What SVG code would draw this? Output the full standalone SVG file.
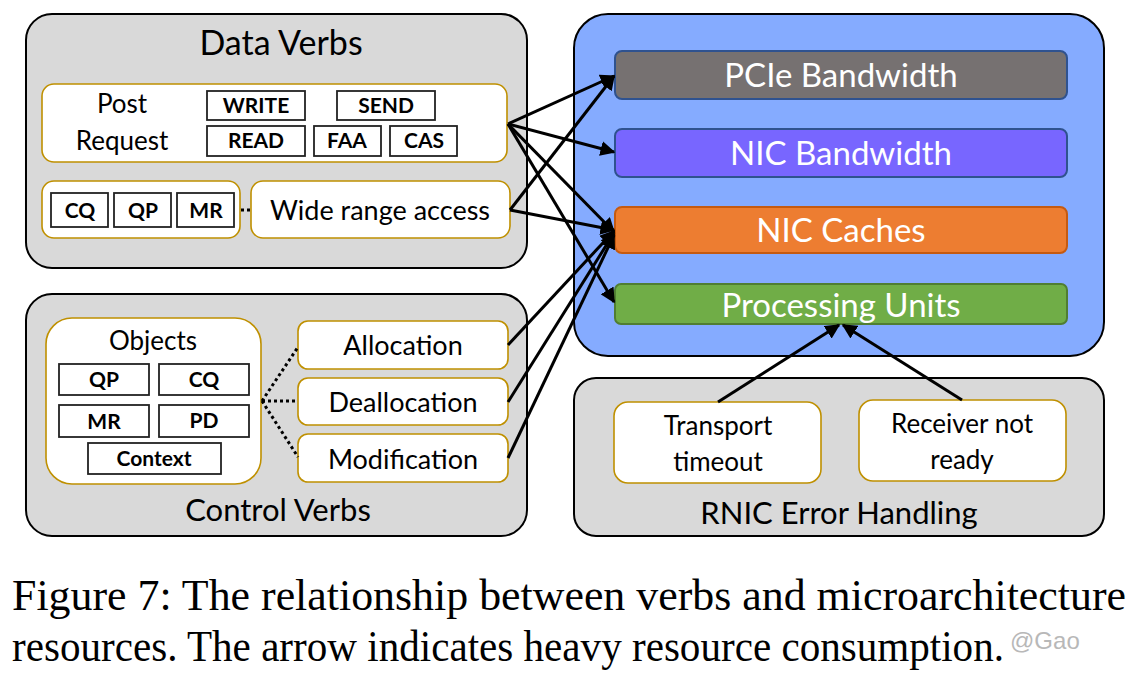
<svg xmlns="http://www.w3.org/2000/svg" width="1142" height="680" viewBox="0 0 1142 680">
<style>
.panel{fill:#d9d9d9;stroke:#000;stroke-width:2}
.gold{fill:#fff;stroke:#bf9000;stroke-width:1.6}
.tag{fill:#fff;stroke:#222;stroke-width:1.8}
.res{stroke:#2f528f;stroke-width:2}
.t{font-family:Lato,"Open Sans",sans-serif;fill:#000;text-anchor:middle}
.b{font-family:Lato,"Open Sans",sans-serif;font-weight:bold;fill:#000;text-anchor:middle;font-size:21px}
.w{font-family:Lato,"Open Sans",sans-serif;fill:#fff;text-anchor:middle;font-size:33px}
.arr{stroke:#000;stroke-width:3;fill:none;marker-end:url(#ah)}
.dot{stroke:#000;stroke-width:3;stroke-dasharray:3 3;fill:none}
.cap{font-family:"Liberation Serif","Times New Roman",serif;font-size:44px;fill:#000}
</style>
<defs>
<marker id="ah" viewBox="0 0 10 10" refX="9" refY="5" markerWidth="5" markerHeight="5" orient="auto" markerUnits="strokeWidth">
<path d="M0,0 L10,5 L0,10 z" fill="#000"/>
</marker>
</defs>
<rect width="1142" height="680" fill="#fff"/>

<g id="data-verbs">
<rect class="panel" x="26" y="14" width="501" height="254" rx="26"/>
<text class="t" x="281" y="55" font-size="34">Data Verbs</text>
</g>
<g id="post-request">
<rect class="gold" x="42" y="84" width="465" height="78" rx="12"/>
<text class="t" x="122" y="113" font-size="26">Post</text>
<text class="t" x="122" y="150" font-size="26">Request</text>
</g>
<g id="write"><rect class="tag" x="207" y="91" width="98" height="29"/><text class="b" x="256" y="113">WRITE</text></g>
<g id="send"><rect class="tag" x="337" y="91" width="98" height="29"/><text class="b" x="386" y="113">SEND</text></g>
<g id="read"><rect class="tag" x="207" y="126" width="98" height="30"/><text class="b" x="256" y="148">READ</text></g>
<g id="faa"><rect class="tag" x="314" y="126" width="67" height="30"/><text class="b" x="347" y="148">FAA</text></g>
<g id="cas"><rect class="tag" x="390" y="126" width="67" height="30"/><text class="b" x="424" y="148">CAS</text></g>

<g id="dv-objects">
<rect class="gold" x="42" y="181" width="198" height="57" rx="12"/>
<rect class="tag" x="51" y="193" width="57" height="34"/><text class="b" x="80" y="218">CQ</text>
<rect class="tag" x="114" y="193" width="57" height="34"/><text class="b" x="143" y="218">QP</text>
<rect class="tag" x="177" y="193" width="57" height="34"/><text class="b" x="206" y="218">MR</text>
</g>
<g id="wide-range">
<rect class="gold" x="251" y="181" width="259" height="57" rx="12"/>
<text class="t" x="380" y="220" font-size="27">Wide range access</text>
</g>

<g id="control-verbs">
<rect class="panel" x="26" y="294" width="501" height="242" rx="26"/>
<text class="t" x="278" y="521" font-size="31">Control Verbs</text>
</g>
<g id="cv-objects">
<rect class="gold" x="46" y="318" width="215" height="166" rx="26"/>
<text class="t" x="153" y="350" font-size="26">Objects</text>
<rect class="tag" x="59" y="364" width="90" height="31"/><text class="b" x="104" y="387">QP</text>
<rect class="tag" x="159" y="364" width="90" height="31"/><text class="b" x="204" y="387">CQ</text>
<rect class="tag" x="59" y="405" width="90" height="32"/><text class="b" x="104" y="429">MR</text>
<rect class="tag" x="159" y="405" width="90" height="32"/><text class="b" x="204" y="428">PD</text>
<rect class="tag" x="88" y="443" width="133" height="31"/><text class="b" x="154" y="466">Context</text>
</g>
<g id="allocation"><rect class="gold" x="298" y="321" width="210" height="48" rx="10"/><text class="t" x="403" y="355" font-size="27">Allocation</text></g>
<g id="deallocation"><rect class="gold" x="298" y="378" width="210" height="47" rx="10"/><text class="t" x="403" y="412" font-size="27">Deallocation</text></g>
<g id="modification"><rect class="gold" x="298" y="434" width="210" height="48" rx="10"/><text class="t" x="403" y="469" font-size="27">Modification</text></g>

<g id="resources">
<rect x="574" y="14" width="530" height="342" rx="34" fill="#85abff" stroke="#000" stroke-width="2"/>
</g>
<g id="pcie"><rect class="res" x="615" y="51" width="452" height="48" rx="7" fill="#767171"/><text class="w" x="841" y="87">PCIe Bandwidth</text></g>
<g id="nic-bw"><rect class="res" x="615" y="129" width="452" height="48" rx="7" fill="#7866ff"/><text class="w" x="841" y="165">NIC Bandwidth</text></g>
<g id="nic-cache"><rect x="615" y="207" width="452" height="46" rx="7" fill="#ed7d31" stroke="#c55a11" stroke-width="2"/><text class="w" x="841" y="242">NIC Caches</text></g>
<g id="pu"><rect x="615" y="284" width="452" height="40" rx="6" fill="#70ad47" stroke="#507e32" stroke-width="2"/><text class="w" x="841" y="317">Processing Units</text></g>

<g id="rnic">
<rect class="panel" x="574" y="378" width="530" height="158" rx="22"/>
<text class="t" x="839" y="524" font-size="31">RNIC Error Handling</text>
</g>
<g id="transport"><rect class="gold" x="614" y="402" width="207" height="81" rx="14"/><text class="t" x="718" y="435" font-size="26">Transport</text><text class="t" x="718" y="471" font-size="26">timeout</text></g>
<g id="rnr"><rect class="gold" x="859" y="400" width="207" height="81" rx="14"/><text class="t" x="962" y="433" font-size="26">Receiver not</text><text class="t" x="962" y="469" font-size="26">ready</text></g>

<g id="connectors">
<line class="dot" x1="241" y1="210" x2="251" y2="210"/>
<line class="dot" x1="262" y1="401" x2="298" y2="347"/>
<line class="dot" x1="262" y1="401" x2="298" y2="401"/>
<line class="dot" x1="262" y1="401" x2="298" y2="457"/>
<line class="arr" x1="508" y1="124" x2="614" y2="76"/>
<line class="arr" x1="508" y1="124" x2="614" y2="152"/>
<line class="arr" x1="508" y1="124" x2="614" y2="232"/>
<line class="arr" x1="508" y1="124" x2="614" y2="302"/>
<line class="arr" x1="510" y1="210" x2="614" y2="76"/>
<line class="arr" x1="510" y1="210" x2="614" y2="230"/>
<line class="arr" x1="508" y1="345" x2="614" y2="231"/>
<line class="arr" x1="508" y1="402" x2="614" y2="233"/>
<line class="arr" x1="508" y1="458" x2="614" y2="235"/>
<line class="arr" x1="718" y1="402" x2="839" y2="325"/>
<line class="arr" x1="962" y1="400" x2="843" y2="325"/>
</g>

<g id="caption">
<text class="cap" x="12" y="610" textLength="1114" lengthAdjust="spacingAndGlyphs">Figure 7: The relationship between verbs and microarchitecture</text>
<text class="cap" x="12" y="661" textLength="992" lengthAdjust="spacingAndGlyphs">resources. The arrow indicates heavy resource consumption.</text>
<text x="1010" y="649" font-family="Liberation Sans,Arial,sans-serif" font-size="24" fill="#b8b8b8">@Gao</text>
</g>
</svg>
